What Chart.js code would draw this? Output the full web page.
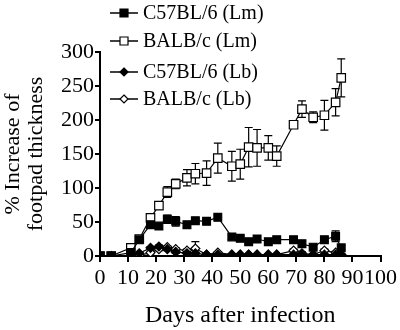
<!DOCTYPE html>
<html>
<head>
<meta charset="utf-8">
<script src="https://cdn.jsdelivr.net/npm/chart.js@4.4.0/dist/chart.umd.min.js"></script>
<style>
  html, body { margin: 0; padding: 0; background: #fff; }
</style>
</head>
<body>
<canvas id="footpadChart" width="400" height="330"></canvas>
<script>
// days after infection (shared by all four groups)
const days = [0, 4, 11, 14, 18, 21, 24, 27, 31, 34, 38, 42, 47, 50, 53, 56, 60, 63, 69, 72, 76, 80, 84, 86];

const seriesNames = ['C57BL/6 (Lm)', 'BALB/c (Lm)', 'C57BL/6 (Lb)', 'BALB/c (Lb)'];

// % increase of footpad thickness
const c57Lm  = [0, 0, 5, 24, 46, 44, 54, 51, 46, 52, 51, 57, 28, 26, 21, 25, 21, 24, 24, 18, 13, 24, 29, 12];
const balbLm = [0, 0, 12, 25, 56, 74, 94, 106, 115, 121, 122, 144, 132, 135, 160, 159, 159, 147, 193, 216, 204, 207, 226, 262];
const c57Lb  = [0, 0, 1, 4, 12, 14, 10, 6, 4, 4, 2, 2, 2, 2, 2, 2, 2, 2, 2, 2, 2, 2, 2, 2];
const balbLb = [0, 0, 0, 1, 5, 10, 13, 10, 8, 11, 2, 5, 2, 2, 2, 2, 2, 2, 8, 4, 2, 8, 5, 2];

// error (SEM) for each point
const c57LmErr  = [0, 0, 2, 3, 4, 4, 6, 7, 3, 3, 3, 3, 4, 3, 3, 3, 3, 3, 3, 3, 3, 3, 8, 3];
const balbLmErr = [0, 0, 3, 4, 5, 5, 8, 7, 12, 15, 18, 22, 22, 22, 29, 27, 18, 15, 5, 12, 8, 22, 20, 28];
const c57LbErr  = [0, 0, 1, 1, 2, 2, 2, 2, 1, 1, 1, 1, 1, 1, 1, 1, 1, 1, 1, 1, 1, 1, 1, 1];
const balbLbErr = [0, 0, 1, 1, 2, 2, 2, 2, 2, 10, 1, 1, 1, 1, 1, 1, 1, 1, 2, 2, 1, 2, 2, 1];

const xTicks = [0, 10, 20, 30, 40, 50, 60, 70, 80, 90, 100];
const yTicks = [0, 50, 100, 150, 200, 250, 300];

const serif = "'Liberation Serif', 'Times New Roman', serif";

function points(vals) {
  return days.map((d, i) => ({ x: d, y: vals[i] }));
}

function makeSet(name, vals, errs, style, fill, radius) {
  return {
    label: name,
    data: points(vals),
    errors: errs,
    borderColor: '#000',
    borderWidth: 1.2,
    pointStyle: style,
    pointRadius: radius,
    pointBackgroundColor: fill,
    pointBorderColor: '#000',
    pointBorderWidth: 1.2,
    tension: 0,
    fill: false
  };
}

// draws error bars under the markers
const errorBars = {
  id: 'errorBars',
  beforeDatasetsDraw(chart) {
    const ctx = chart.ctx;
    const y = chart.scales.y;
    ctx.save();
    ctx.strokeStyle = '#000';
    ctx.lineWidth = 1.2;
    chart.data.datasets.forEach((ds, i) => {
      const meta = chart.getDatasetMeta(i);
      meta.data.forEach((pt, j) => {
        const err = ds.errors[j];
        if (!err) return;
        const v = ds.data[j].y;
        const top = y.getPixelForValue(v + err);
        const bot = y.getPixelForValue(Math.max(v - err, 0));
        ctx.beginPath();
        ctx.moveTo(pt.x, top);
        ctx.lineTo(pt.x, bot);
        ctx.moveTo(pt.x - 4, top);
        ctx.lineTo(pt.x + 4, top);
        ctx.moveTo(pt.x - 4, bot);
        ctx.lineTo(pt.x + 4, bot);
        ctx.stroke();
      });
    });
    ctx.restore();
  }
};

// legend stacked at top left, partly over the plot
const cornerLegend = {
  id: 'cornerLegend',
  afterDraw(chart) {
    const ctx = chart.ctx;
    const rows = [13, 41, 72, 99];
    ctx.save();
    chart.data.datasets.forEach((ds, i) => {
      const yy = rows[i];
      ctx.strokeStyle = '#000';
      ctx.lineWidth = 1.5;
      ctx.beginPath();
      ctx.moveTo(110, yy);
      ctx.lineTo(138, yy);
      ctx.stroke();
      ctx.fillStyle = ds.pointBackgroundColor;
      ctx.lineWidth = 1.2;
      ctx.beginPath();
      if (ds.pointStyle === 'rect') {
        ctx.rect(124 - 4, yy - 4, 8, 8);
      } else {
        ctx.moveTo(124, yy - 4);
        ctx.lineTo(128, yy);
        ctx.lineTo(124, yy + 4);
        ctx.lineTo(120, yy);
        ctx.closePath();
      }
      ctx.fill();
      ctx.stroke();
      ctx.fillStyle = '#000';
      ctx.font = '20px ' + serif;
      ctx.textAlign = 'left';
      ctx.textBaseline = 'middle';
      ctx.fillText(ds.label, 143, yy + 1);
    });
    ctx.restore();
  }
};

new Chart(document.getElementById('footpadChart'), {
  type: 'line',
  data: {
    datasets: [
      makeSet(seriesNames[0], c57Lm, c57LmErr, 'rect', '#000', 5.5),
      makeSet(seriesNames[1], balbLm, balbLmErr, 'rect', '#fff', 6),
      makeSet(seriesNames[2], c57Lb, c57LbErr, 'rectRot', '#000', 4.5),
      makeSet(seriesNames[3], balbLb, balbLbErr, 'rectRot', '#fff', 4.5)
    ]
  },
  options: {
    responsive: false,
    animation: false,
    devicePixelRatio: 1,
    layout: { padding: { top: 52, right: 17, left: 0, bottom: 0 } },
    plugins: {
      legend: { display: false },
      tooltip: { enabled: false }
    },
    scales: {
      x: {
        type: 'linear',
        min: xTicks[0],
        max: xTicks[xTicks.length - 1],
        afterBuildTicks: s => { s.ticks = xTicks.map(v => ({ value: v })); },
        afterFit: s => { s.height = 74; },
        ticks: {
          autoSkip: false,
          maxRotation: 0,
          padding: 3,
          color: '#000',
          font: { family: serif, size: 22 }
        },
        grid: { drawOnChartArea: false, drawTicks: true, tickLength: 6, color: '#000', lineWidth: 2 },
        border: { display: true, color: '#000', width: 2 },
        title: {
          display: true,
          text: 'Days after infection',
          color: '#000',
          font: { family: serif, size: 24, lineHeight: 1.2 },
          padding: { top: 0, bottom: 0 }
        }
      },
      y: {
        min: yTicks[0],
        max: yTicks[yTicks.length - 1],
        afterBuildTicks: s => { s.ticks = yTicks.map(v => ({ value: v })); },
        afterFit: s => { s.width = 100; },
        ticks: {
          padding: 1,
          color: '#000',
          font: { family: serif, size: 22 }
        },
        grid: { drawOnChartArea: false, drawTicks: true, tickLength: 5, color: '#000', lineWidth: 2 },
        border: { display: true, color: '#000', width: 2 },
        title: {
          display: true,
          text: ['% Increase of', 'footpad thickness'],
          color: '#000',
          font: { family: serif, size: 22, lineHeight: '23px' },
          padding: { top: 2, bottom: 0 }
        }
      }
    }
  },
  plugins: [errorBars, cornerLegend]
});
</script>
</body>
</html>
